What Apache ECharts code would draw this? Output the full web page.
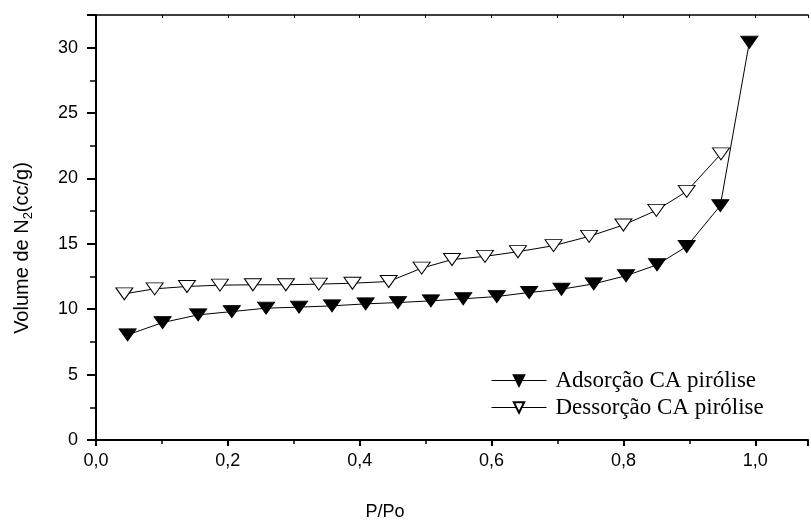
<!DOCTYPE html>
<html>
<head>
<meta charset="utf-8">
<script src="https://cdn.jsdelivr.net/npm/echarts@6/dist/echarts.min.js"></script>
<style>html,body{margin:0;padding:0;background:#fff}#c{width:811px;height:523px}</style>
</head>
<body>
<div id="c"></div>
<script>
var adsX = [0.048, 0.101, 0.155, 0.206, 0.258, 0.308, 0.358, 0.409, 0.458, 0.508, 0.557, 0.608, 0.657, 0.706, 0.755, 0.804, 0.851, 0.896, 0.947, 0.991];
var adsY = [8.04, 8.98, 9.57, 9.82, 10.08, 10.16, 10.26, 10.41, 10.51, 10.64, 10.8, 10.97, 11.28, 11.53, 11.94, 12.56, 13.40, 14.80, 17.92, 30.42];
var desX = [0.043, 0.089, 0.138, 0.188, 0.238, 0.288, 0.338, 0.389, 0.444, 0.494, 0.540, 0.590, 0.640, 0.694, 0.748, 0.800, 0.850, 0.896, 0.948];
var desY = [11.18, 11.56, 11.74, 11.84, 11.87, 11.87, 11.92, 11.99, 12.12, 13.14, 13.80, 14.04, 14.40, 14.86, 15.57, 16.44, 17.56, 19.01, 21.88];
var seriesNames = ['Adsorção CA pirólise', 'Dessorção CA pirólise'];
var xTitle = 'P/Po';

function pairs(xs, ys) { return xs.map(function (x, i) { return [x, ys[i]]; }); }

var chart = echarts.init(document.getElementById('c'), null, {renderer: 'canvas'});
var sans = '"Liberation Sans", Arial, sans-serif';
var serif = '"Liberation Serif", "Times New Roman", serif';
chart.setOption({
  animation: false,
  backgroundColor: '#fff',
  grid: {left: 96, right: 0, top: 15, bottom: 83, containLabel: false},
  xAxis: [{
    type: 'value', min: 0, max: 1.08, interval: 0.2, position: 'bottom',
    axisLine: {show: true, onZero: false, lineStyle: {color: '#000', width: 2}},
    axisTick: {show: true, length: 6, lineStyle: {color: '#000', width: 2}},
    minorTick: {show: true, splitNumber: 2, length: 4, lineStyle: {color: '#000', width: 1.5}},
    splitLine: {show: false},
    axisLabel: {color: '#000', fontFamily: sans, fontSize: 18, margin: 12,
      formatter: function (v) { return (Math.abs(v - 1.08) < 1e-6) ? '' : v.toFixed(1).replace('.', ','); }}
  }, {
    type: 'value', min: 0, max: 1.08, interval: 0.1, position: 'top',
    axisLine: {show: true, onZero: false, lineStyle: {color: '#000', width: 1.5}},
    axisTick: {show: true, inside: true, length: 3, lineStyle: {color: '#000', width: 1}},
    axisLabel: {show: false}, splitLine: {show: false}
  }],
  yAxis: {
    type: 'value', min: 0, max: 32.5, interval: 5,
    axisLine: {show: true, onZero: false, lineStyle: {color: '#000', width: 2}},
    axisTick: {show: true, length: 9, lineStyle: {color: '#000', width: 2}},
    minorTick: {show: true, splitNumber: 2, length: 6, lineStyle: {color: '#000', width: 1.5}},
    splitLine: {show: false},
    axisLabel: {color: '#000', fontFamily: sans, fontSize: 18, margin: 18,
      formatter: function (v) { return (v % 5 === 0) ? String(v) : ''; }}
  },
  legend: {
    orient: 'vertical', left: 491, top: 369, padding: 0, itemWidth: 55, itemHeight: 13, itemGap: 4,
    lineStyle: {width: 1, color: '#000'},
    textStyle: {fontFamily: serif, fontSize: 23, color: '#000', lineHeight: 23, padding: [0, 0, 0, 4]},
    data: seriesNames
  },
  series: [{
    name: seriesNames[1], type: 'line', data: pairs(desX, desY),
    symbol: 'triangle', symbolSize: [17, 12], symbolRotate: 180, showAllSymbol: true,
    lineStyle: {color: '#000', width: 1},
    itemStyle: {color: '#fff', borderColor: '#000', borderWidth: 1}
  }, {
    name: seriesNames[0], type: 'line', data: pairs(adsX, adsY),
    symbol: 'triangle', symbolSize: [17, 12], symbolRotate: 180, showAllSymbol: true,
    lineStyle: {color: '#000', width: 1},
    itemStyle: {color: '#000', borderColor: '#000', borderWidth: 1}
  }],
  graphic: [{
    type: 'text', x: 385, y: 512,
    style: {text: xTitle, font: '18px ' + sans, fill: '#000', align: 'center', verticalAlign: 'middle'}
  }, {
    type: 'text', x: 22, y: 248, rotation: Math.PI / 2,
    style: {
      text: 'Volume de N{s|2}(cc/g)', align: 'center', verticalAlign: 'middle',
      font: '20px ' + sans, fill: '#000',
      rich: {s: {fontSize: 13, fontFamily: sans, fill: '#000', padding: [12, 0, 0, 0]}}
    }
  }]
});
</script>
</body>
</html>
